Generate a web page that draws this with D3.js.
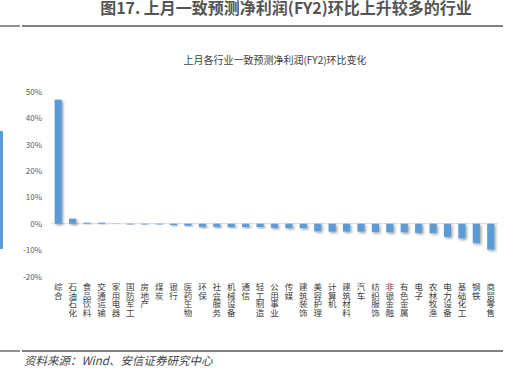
<!DOCTYPE html>
<html>
<head>
<meta charset="utf-8">
<script src="https://cdn.jsdelivr.net/npm/d3@7"></script>
<style>
  body { margin: 0; background: #fff; }
  svg { display: block; }
</style>
</head>
<body>
<svg id="drawing_region"></svg>
<script>
const categories = ['综合', '石油石化', '食品饮料', '交通运输', '家用电器', '国防军工', '房地产', '煤炭',
    '银行', '医药生物', '环保', '社会服务', '机械设备', '通信', '轻工制造', '公用事业', '传媒',
    '建筑装饰', '美容护理', '计算机', '建筑材料', '汽车', '纺织服饰', '非银金融', '有色金属',
    '电子', '农林牧渔', '电力设备', '基础化工', '钢铁', '商贸零售'];
const values = [47.0, 1.9, 0.4, 0.4, 0.1, -0.3, -0.3, -0.3, -0.6, -0.8, -1.2, -1.2, -1.3, -1.3, -1.3,
    -1.6, -1.7, -1.7, -2.9, -3.0, -3.0, -3.0, -3.2, -3.3, -3.3, -3.5, -3.6, -5.0, -5.6, -7.4, -9.8];
const yticks = [-20, -10, 0, 10, 20, 30, 40, 50];

const fig_title = '图17. 上月一致预测净利润(FY2)环比上升较多的行业';
const chart_title = '上月各行业一致预测净利润(FY2)环比变化';
const source_text = '资料来源：Wind、安信证券研究中心';

const data = categories.map((c, i) => ({ name: c, value: values[i] }));

const width = 511, height = 373;
const svg = d3.select('#drawing_region')
    .attr('width', width)
    .attr('height', height);

const font = "'Noto Sans CJK SC', 'Noto Sans', sans-serif";

// drop shadow like the excel bars
const defs = svg.append('defs');
const f = defs.append('filter').attr('id', 'shadow')
    .attr('x', '-50%').attr('y', '-50%').attr('width', '200%').attr('height', '200%');
f.append('feDropShadow')
    .attr('dx', 1.5).attr('dy', 1.5).attr('stdDeviation', 1.2)
    .attr('flood-color', '#000').attr('flood-opacity', 0.35);

// header and footer
svg.append('text')
    .attr('x', 286).attr('y', 14)
    .attr('text-anchor', 'middle')
    .attr('font-family', font).attr('font-weight', 'bold')
    .attr('font-size', 16).attr('fill', '#555')
    .text(fig_title);

[26, 351].forEach(y => {
    svg.append('line').attr('x1', 0).attr('x2', 20).attr('y1', y).attr('y2', y)
        .attr('stroke', '#555').attr('stroke-width', 1.3);
    svg.append('line').attr('x1', 22).attr('x2', 503).attr('y1', y).attr('y2', y)
        .attr('stroke', '#555').attr('stroke-width', 1.3);
});

svg.append('text')
    .attr('x', 24).attr('y', 365)
    .attr('font-family', font).attr('font-style', 'italic')
    .attr('font-size', 11.5).attr('fill', '#444')
    .text(source_text);

// clipped piece of the neighbouring panel on the left edge
svg.append('rect').attr('x', 0).attr('y', 131).attr('width', 3).attr('height', 118)
    .attr('fill', '#5b9bd5');

// chart
svg.append('text')
    .attr('x', 275).attr('y', 64)
    .attr('text-anchor', 'middle')
    .attr('font-family', font).attr('font-size', 10).attr('fill', '#404040')
    .text(chart_title);

const xscale = d3.scaleBand()
    .domain(categories)
    .range([51, 498])
    .paddingInner(0.5)
    .paddingOuter(0.25);

const yscale = d3.scaleLinear()
    .domain([-20, 50])
    .range([276.5, 91.7]);

const yaxis = d3.axisLeft(yscale)
    .tickValues(yticks)
    .tickFormat(d => d + '%')
    .tickSize(0)
    .tickPadding(0);

const yaxis_group = svg.append('g')
    .attr('transform', 'translate(42,0)')
    .call(yaxis);
yaxis_group.select('.domain').remove();
yaxis_group.selectAll('text')
    .attr('font-family', font).attr('font-size', 8).attr('fill', '#595959');

svg.append('line')
    .attr('x1', 51).attr('x2', 498)
    .attr('y1', yscale(0)).attr('y2', yscale(0))
    .attr('stroke', '#d9d9d9').attr('stroke-width', 1);

svg.append('g').selectAll('rect')
    .data(data).enter()
    .append('rect')
    .attr('x', d => xscale(d.name))
    .attr('width', xscale.bandwidth())
    .attr('y', d => yscale(Math.max(0, d.value)))
    .attr('height', d => Math.abs(yscale(d.value) - yscale(0)))
    .attr('fill', '#5b9bd5')
    .attr('filter', 'url(#shadow)');

// vertical category labels (upright characters, top to bottom)
svg.append('g').selectAll('text')
    .data(data).enter()
    .append('text')
    .attr('x', d => xscale(d.name) + xscale.bandwidth() / 2)
    .attr('y', 283)
    .style('writing-mode', 'vertical-rl')
    .style('text-orientation', 'upright')
    .attr('font-family', font).attr('font-size', 8.5).attr('fill', '#404040')
    .text(d => d.name);
</script>
</body>
</html>
